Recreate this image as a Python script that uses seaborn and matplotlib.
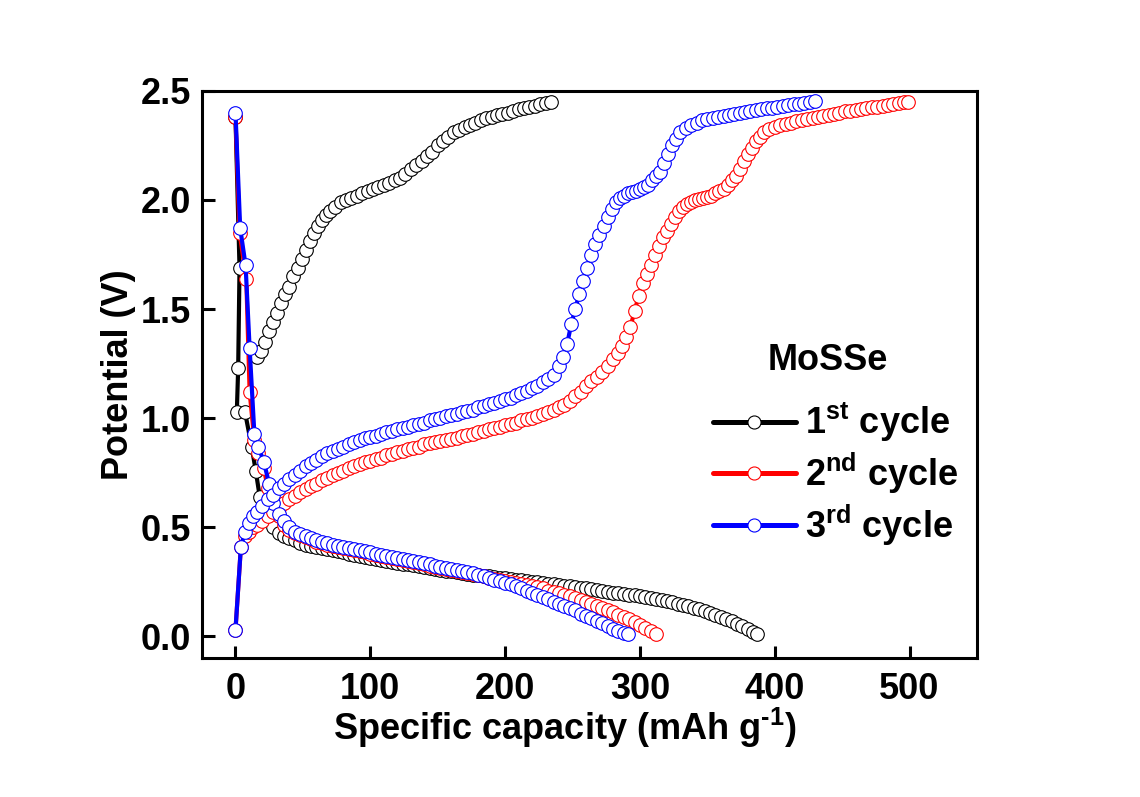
import matplotlib
matplotlib.use('Agg')
import matplotlib.pyplot as plt
from matplotlib.lines import Line2D
import seaborn as sns

# 1st cycle, discharge (capacity in mAh g-1, potential in V)
d1_cap = [0, 3, 2, 1, 7, 12, 15, 18, 21, 24, 28, 32,
          36, 40, 44, 48, 52, 56, 60, 64, 68, 72, 76, 80, 84, 88, 92, 96,
          100, 104, 108, 112, 116, 120, 124, 128, 132, 136, 140, 144, 148,
          152, 156, 160, 164, 168, 172, 176, 180, 184, 188, 192, 196, 200,
          204, 208, 212, 216, 220, 224, 228, 232, 236, 240, 244, 248, 252,
          256, 260, 264, 268, 272, 276, 280, 284, 288, 292, 296, 300, 304,
          308, 312, 316, 320, 324, 328, 332, 336, 340, 344, 348, 352, 356,
          360, 364, 368, 372, 376, 380, 384, 387]
d1_volt = [2.38, 1.69, 1.23, 1.03, 1.03, 0.87, 0.76, 0.64, 0.58, 0.54, 0.50, 0.475,
           0.46, 0.45, 0.44, 0.43, 0.42, 0.415, 0.41, 0.405, 0.40, 0.395, 0.39, 0.385,
           0.38, 0.375, 0.37, 0.365, 0.36, 0.355, 0.35, 0.346, 0.342, 0.338, 0.334,
           0.33, 0.326, 0.322, 0.318, 0.314, 0.31, 0.306, 0.302, 0.298, 0.294, 0.29,
           0.287, 0.284, 0.281, 0.278, 0.275, 0.272, 0.269, 0.266, 0.263, 0.26, 0.257,
           0.254, 0.251, 0.248, 0.245, 0.242, 0.239, 0.236, 0.233, 0.23, 0.227, 0.224,
           0.221, 0.217, 0.213, 0.209, 0.205, 0.201, 0.198, 0.195, 0.192, 0.189, 0.186,
           0.182, 0.177, 0.172, 0.167, 0.162, 0.157, 0.151, 0.145, 0.139, 0.132, 0.124,
           0.116, 0.108, 0.099, 0.09, 0.08, 0.07, 0.059, 0.047, 0.034, 0.021, 0.01]

# 1st cycle, charge
c1_cap = [16, 19, 22, 25, 28, 31, 34, 37, 40, 43, 46, 49, 52, 55, 58, 61, 64, 67,
          70, 74, 78, 82, 86, 90, 94, 98, 102, 106, 110, 114, 118, 122, 126, 130,
          134, 138, 142, 146, 150, 154, 158, 162, 166, 170, 174, 178, 182, 186,
          190, 194, 198, 202, 206, 210, 214, 218, 222, 226, 230, 234]
c1_volt = [1.28, 1.31, 1.35, 1.40, 1.44, 1.48, 1.53, 1.57, 1.60, 1.65, 1.69, 1.73,
           1.77, 1.81, 1.85, 1.88, 1.91, 1.93, 1.95, 1.97, 1.99, 2.00, 2.01, 2.02,
           2.03, 2.04, 2.05, 2.06, 2.07, 2.08, 2.09, 2.10, 2.12, 2.14, 2.16, 2.18,
           2.20, 2.22, 2.25, 2.27, 2.29, 2.31, 2.32, 2.335, 2.345, 2.355, 2.365,
           2.375, 2.38, 2.39, 2.395, 2.40, 2.41, 2.415, 2.42, 2.425, 2.43, 2.44,
           2.445, 2.45]

# 2nd cycle, discharge
d2_cap = [0, 3, 8, 10.5, 14, 17, 21, 24, 28, 32,
          36, 40, 44, 48, 52, 56, 60, 64, 68, 72, 76, 80, 84, 88, 92, 96,
          100, 104, 108, 112, 116, 120, 124, 128, 132, 136, 140, 144, 148,
          152, 156, 160, 164, 168, 172, 176, 180, 184, 188, 192, 196, 200,
          204, 208, 212, 216, 220, 224, 228, 232, 236, 240, 244, 248, 252,
          256, 260, 264, 268, 272, 276, 280, 284, 288, 292, 296, 300, 304,
          308, 312]
d2_volt = [2.38, 1.85, 1.64, 1.12, 0.90, 0.84, 0.77, 0.68, 0.60, 0.55,
           0.51, 0.49, 0.475, 0.465, 0.455, 0.445, 0.435, 0.43, 0.42, 0.415, 0.41,
           0.405, 0.40, 0.395, 0.39, 0.385, 0.38, 0.375, 0.37, 0.365, 0.36, 0.355,
           0.35, 0.345, 0.34, 0.335, 0.33, 0.325, 0.32, 0.315, 0.31, 0.305, 0.30,
           0.295, 0.29, 0.285, 0.28, 0.275, 0.27, 0.265, 0.26, 0.255, 0.25, 0.245,
           0.24, 0.235, 0.23, 0.225, 0.22, 0.21, 0.205, 0.20, 0.19, 0.185, 0.175,
           0.165, 0.158, 0.148, 0.14, 0.13, 0.12, 0.11, 0.10, 0.09, 0.078, 0.066,
           0.053, 0.04, 0.026, 0.012]

# 2nd cycle, charge
c2_cap = [0, 4, 7, 10, 13, 16, 20, 24, 28, 32, 36, 40, 44, 48, 52, 56, 60, 64,
          68, 72, 76, 80, 84, 88, 92, 96, 100, 104, 108, 112, 116, 120, 124, 128,
          132, 136, 140, 144, 148, 152, 156, 160, 164, 168, 172, 176, 180, 184,
          188, 192, 196, 200, 204, 208, 212, 216, 220, 224, 228, 232, 236, 240,
          244, 248, 252, 256, 260, 264, 268, 272, 276, 280, 284, 287, 290, 293,
          296, 299, 302, 305, 308, 311, 314, 317, 320, 323, 326, 329, 332, 335,
          338, 341, 344, 347, 350, 353, 356, 359, 362, 365, 368, 371, 374, 377,
          380, 383, 386, 389, 392, 396, 400, 404, 408, 412, 416, 420, 424, 428,
          432, 436, 440, 444, 448, 452, 456, 460, 464, 468, 472, 476, 480, 484,
          488, 492, 496, 499]
c2_volt = [0.03, 0.41, 0.46, 0.48, 0.50, 0.51, 0.53, 0.55, 0.57, 0.59, 0.61, 0.63,
           0.645, 0.66, 0.675, 0.69, 0.70, 0.715, 0.725, 0.74, 0.75, 0.76, 0.77,
           0.78, 0.79, 0.80, 0.805, 0.815, 0.82, 0.83, 0.835, 0.845, 0.85, 0.86,
           0.865, 0.87, 0.88, 0.885, 0.89, 0.895, 0.90, 0.905, 0.91, 0.92, 0.925,
           0.93, 0.935, 0.94, 0.95, 0.955, 0.96, 0.97, 0.975, 0.98, 0.99, 0.995,
           1.00, 1.01, 1.02, 1.03, 1.04, 1.05, 1.06, 1.08, 1.10, 1.12, 1.15, 1.17,
           1.19, 1.21, 1.24, 1.27, 1.30, 1.33, 1.37, 1.42, 1.49, 1.56, 1.62, 1.66,
           1.70, 1.75, 1.79, 1.83, 1.86, 1.89, 1.92, 1.95, 1.97, 1.98, 1.99, 2.00,
           2.005, 2.01, 2.015, 2.02, 2.03, 2.04, 2.05, 2.07, 2.09, 2.11, 2.14, 2.18,
           2.21, 2.24, 2.27, 2.29, 2.31, 2.325, 2.335, 2.345, 2.35, 2.355, 2.36,
           2.365, 2.37, 2.375, 2.38, 2.385, 2.39, 2.395, 2.40, 2.406, 2.41,
           2.413, 2.416, 2.42, 2.424, 2.428, 2.432, 2.436, 2.44, 2.444, 2.448, 2.45]

# 3rd cycle, discharge
d3_cap = [0, 3.5, 7.5, 10.5, 14, 17, 21, 25, 28, 32,
          36, 40, 44, 48, 52, 56, 60, 64, 68, 72, 76, 80, 84, 88, 92, 96,
          100, 104, 108, 112, 116, 120, 124, 128, 132, 136, 140, 144, 148,
          152, 156, 160, 164, 168, 172, 176, 180, 184, 188, 192, 196, 200,
          204, 208, 212, 216, 220, 224, 228, 232, 236, 240, 244, 248, 252,
          256, 260, 264, 268, 272, 276, 280, 284, 288, 291]
d3_volt = [2.40, 1.87, 1.70, 1.32, 0.93, 0.87, 0.80, 0.70, 0.61, 0.56,
           0.53, 0.50, 0.48, 0.47, 0.46, 0.45, 0.44, 0.435, 0.43, 0.42, 0.415,
           0.41, 0.405, 0.40, 0.395, 0.39, 0.385, 0.38, 0.375, 0.37, 0.365, 0.36,
           0.355, 0.35, 0.345, 0.34, 0.335, 0.33, 0.325, 0.32, 0.315, 0.31, 0.305,
           0.30, 0.295, 0.29, 0.28, 0.275, 0.27, 0.26, 0.255, 0.245, 0.24, 0.23,
           0.22, 0.21, 0.20, 0.19, 0.18, 0.17, 0.16, 0.15, 0.14, 0.13, 0.12, 0.105,
           0.095, 0.085, 0.07, 0.06, 0.05, 0.035, 0.025, 0.015, 0.01]

# 3rd cycle, charge
c3_cap = [0, 4, 7, 10, 13, 16, 20, 24, 28, 32, 36, 40, 44, 48, 52, 56, 60, 64,
          68, 72, 76, 80, 84, 88, 92, 96, 100, 104, 108, 112, 116, 120, 124, 128,
          132, 136, 140, 144, 148, 152, 156, 160, 164, 168, 172, 176, 180, 184,
          188, 192, 196, 200, 204, 208, 212, 216, 220, 224, 228, 232, 236, 240,
          243, 246, 249, 252, 255, 258, 261, 264, 267, 270, 273, 276, 279, 282,
          285, 288, 291, 294, 297, 300, 303, 306, 309, 312, 315, 318, 321, 324,
          327, 330, 334, 338, 342, 346, 350, 354, 358, 362, 366, 370, 374, 378,
          382, 386, 390, 394, 398, 402, 406, 410, 414, 418, 422, 426, 430]
c3_volt = [0.03, 0.41, 0.48, 0.52, 0.55, 0.57, 0.60, 0.63, 0.65, 0.68, 0.70, 0.72,
           0.74, 0.76, 0.78, 0.795, 0.81, 0.825, 0.84, 0.85, 0.86, 0.87, 0.88, 0.89,
           0.90, 0.91, 0.915, 0.92, 0.93, 0.935, 0.94, 0.95, 0.955, 0.96, 0.97,
           0.975, 0.98, 0.99, 0.995, 1.00, 1.01, 1.015, 1.02, 1.03, 1.035, 1.04,
           1.05, 1.055, 1.065, 1.07, 1.08, 1.09, 1.095, 1.105, 1.115, 1.125, 1.14,
           1.15, 1.165, 1.18, 1.20, 1.24, 1.28, 1.34, 1.43, 1.50, 1.57, 1.63, 1.69,
           1.75, 1.80, 1.84, 1.88, 1.92, 1.96, 1.99, 2.01, 2.02, 2.03, 2.035, 2.04,
           2.05, 2.06, 2.07, 2.09, 2.11, 2.13, 2.17, 2.21, 2.25, 2.28, 2.31, 2.33,
           2.345, 2.355, 2.365, 2.37, 2.375, 2.38, 2.385, 2.39, 2.395, 2.40, 2.405,
           2.41, 2.413, 2.416, 2.42, 2.423, 2.426, 2.43, 2.434, 2.438, 2.442,
           2.446, 2.449, 2.452]

cycle_labels = [r'1$^{\rm st}$ cycle', r'2$^{\rm nd}$ cycle', r'3$^{\rm rd}$ cycle']
cycle_colors = ['black', 'red', 'blue']
legend_title = 'MoSSe'

sns.set_theme(style='ticks')
plt.rcParams['font.family'] = ['Liberation Sans', 'DejaVu Sans']
plt.rcParams['font.weight'] = 'bold'
plt.rcParams['mathtext.fontset'] = 'custom'
plt.rcParams['mathtext.rm'] = 'Liberation Sans:bold'
plt.rcParams['mathtext.bf'] = 'Liberation Sans:bold'
plt.rcParams['mathtext.default'] = 'rm'
for key in ['text.color', 'axes.labelcolor', 'xtick.color', 'ytick.color',
            'axes.edgecolor']:
    plt.rcParams[key] = 'black'

fig = plt.figure(figsize=(11.4, 7.97), dpi=100)
ax = fig.add_axes([0.177, 0.174, 0.680, 0.712])

curves = [
    (d1_cap, d1_volt, 0), (c1_cap, c1_volt, 0),
    (d2_cap, d2_volt, 1), (c2_cap, c2_volt, 1),
    (d3_cap, d3_volt, 2), (c3_cap, c3_volt, 2),
]
for cap, volt, k in curves:
    col = cycle_colors[k]
    sns.lineplot(x=cap, y=volt, sort=False, estimator=None, ax=ax,
                 color=col, linewidth=3, marker='o', markersize=9.8,
                 markerfacecolor='white', markeredgecolor=col,
                 markeredgewidth=0.8)

ax.set_xlim(-25, 550)
ax.set_ylim(-0.1, 2.5)
ax.set_xticks([0, 100, 200, 300, 400, 500])
ax.set_yticks([0.0, 0.5, 1.0, 1.5, 2.0, 2.5])
ax.yaxis.set_major_formatter(matplotlib.ticker.FormatStrFormatter('%.1f'))

for side in ['top', 'right', 'bottom', 'left']:
    ax.spines[side].set_visible(True)
    ax.spines[side].set_linewidth(2.2)
    ax.spines[side].set_color('black')
ax.tick_params(direction='in', length=9, width=2.2, labelsize=26,
               top=False, right=False, colors='black')
ax.tick_params(axis='x', pad=10)
ax.tick_params(axis='y', pad=8)
for lab in ax.get_xticklabels() + ax.get_yticklabels():
    lab.set_fontweight('bold')

ax.set_xlabel(r'Specific capacity (mAh g$^{\text{-1}}$)', fontsize=26,
              fontweight='bold')
ax.xaxis.set_label_coords(0.468, -0.083)
ax.set_ylabel('Potential (V)', fontsize=26, fontweight='bold', labelpad=3)

handles = [Line2D([], [], color=c, linewidth=3.6, marker='o', markersize=9.4,
                  markerfacecolor='white', markeredgecolor=c,
                  markeredgewidth=0.8) for c in cycle_colors]
leg = ax.legend(handles, cycle_labels, frameon=False, fontsize=26,
                handlelength=2.3, handletextpad=0.25, labelspacing=0.18,
                loc='center', bbox_to_anchor=(0.733, 0.405),
                bbox_transform=fig.transFigure)
fig.text(0.726, 0.548, legend_title, fontsize=26, fontweight='bold',
         ha='center', va='center')

fig.savefig('out.png', dpi=100)
